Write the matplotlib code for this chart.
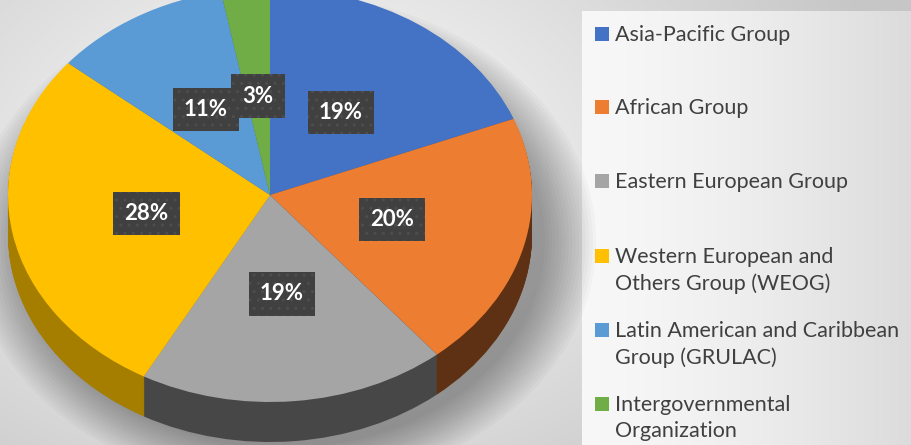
import numpy as np
import matplotlib.pyplot as plt
from matplotlib.patches import Ellipse, Rectangle

plt.rcParams['font.family'] = ['Lato', 'DejaVu Sans']

# data
groups = ['Asia-Pacific Group', 'African Group', 'Eastern European Group',
          'Western European and\nOthers Group (WEOG)',
          'Latin American and Caribbean\nGroup (GRULAC)',
          'Intergovernmental\nOrganization']
shares = [19, 20, 19, 28, 11, 3]
top_colors = ['#4472c4', '#ed7d31', '#a5a5a5', '#ffc000', '#5b9bd5', '#70ad47']
side_colors = ['#2c4a80', '#5e3114', '#474747', '#a57e00', '#3b6a96', '#4a7530']

W, H = 912, 445
fig = plt.figure(figsize=(W / 100, H / 100), dpi=100)

# background gradient
bg = fig.add_axes([0, 0, 1, 1])
bg.set_xlim(0, W)
bg.set_ylim(H, 0)
bg.axis('off')
yy, xx = np.mgrid[0:H, 0:W]
d = np.sqrt(((xx - 300) / 600.0) ** 2 + ((yy - 170) / 420.0) ** 2)
g = np.clip(1.0 - 0.22 * d, 0.78, 1.0)
bg.imshow(np.dstack([g, g, g]), extent=(0, W, H, 0), aspect='auto', zorder=0)
px = np.linspace(0, 1, 330)
lg = 0.97 - 0.11 * px ** 1.5
bg.imshow(np.dstack([lg, lg, lg]), extent=(582, W, H, 11), aspect='auto',
          zorder=1)

# pie axes: unit circle mapped to an ellipse (rx=262px, ry=207px)
cx, cy, rx, ry = 270, 195, 262, 207
ax = fig.add_axes([0, 0, 1, 1])
ax.patch.set_alpha(0)
xlim = (-cx / rx, (W - cx) / rx)
ylim = (-(H - cy) / ry, cy / ry)
thick = 40 / ry

# soft shadow
for i in range(16):
    s = 1.0 + 0.013 * i
    ax.add_patch(Ellipse((0.05, -thick - 0.03), 2 * s, 2 * s, fc='black',
                         alpha=0.025, lw=0, zorder=0))

# side wall via stacked pies
for off in np.linspace(thick, 0.005, 40):
    ax.pie(shares, colors=side_colors, startangle=90, counterclock=False,
           center=(0, -off), radius=1, wedgeprops=dict(linewidth=0))

wedges, texts, autotexts = ax.pie(
    shares, colors=top_colors, startangle=90, counterclock=False,
    radius=1, autopct=lambda p: f'{p:.0f}%', pctdistance=0.48,
    wedgeprops=dict(linewidth=0),
    textprops=dict(color='white', fontsize=16, fontweight='bold'))
for t in autotexts:
    t.set_bbox(dict(boxstyle='square,pad=0.5', fc='#404040', ec='#4d4d4d',
                    lw=0, hatch='..'))
ax.set_aspect('auto')
ax.set_xlim(*xlim)
ax.set_ylim(*ylim)
ax.axis('off')

# legend
leg_y = [34, 107, 181, 256, 330, 404]
for name, col, y in zip(groups, top_colors, leg_y):
    bg.add_patch(Rectangle((595, y - 7), 14, 14, fc=col, lw=0, zorder=3))
    bg.text(615, y - 9, name, fontsize=15.5, color='#404040', va='top',
            ha='left', linespacing=1.4, zorder=3)

fig.savefig('out.png', dpi=100)
